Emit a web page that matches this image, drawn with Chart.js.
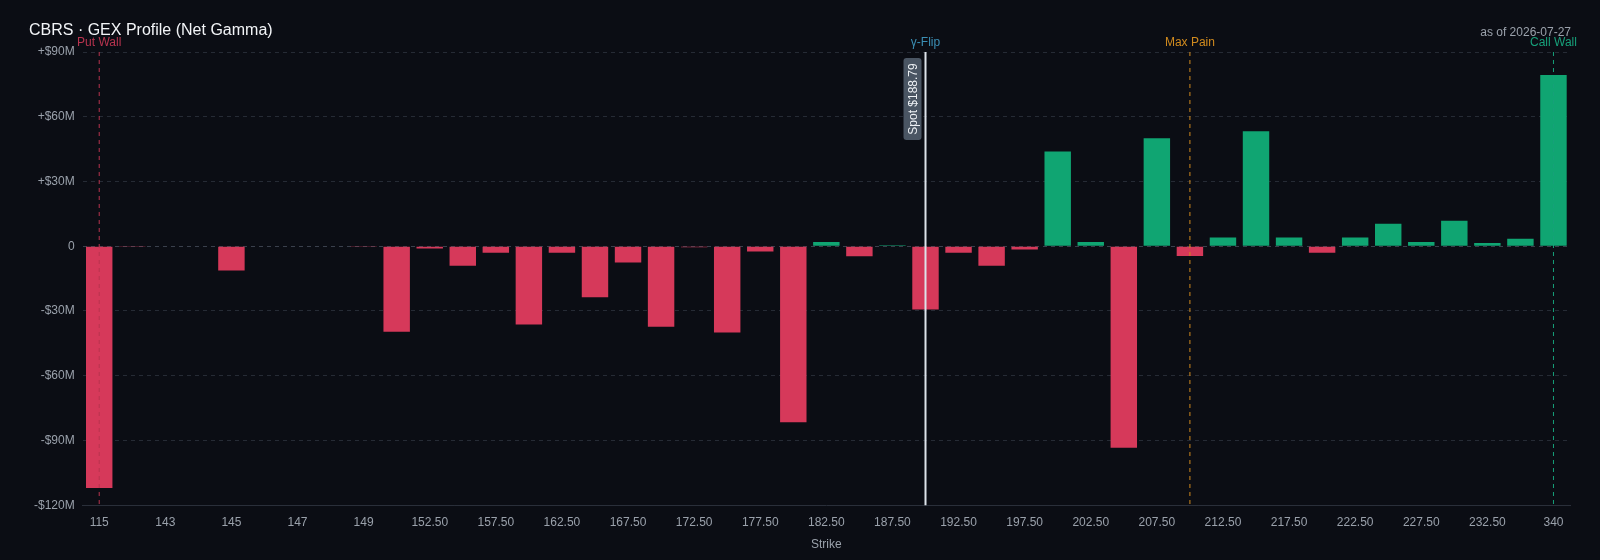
<!DOCTYPE html>
<html>
<head>
<meta charset="utf-8">
<script src="https://cdn.jsdelivr.net/npm/chart.js@4.4.1/dist/chart.umd.min.js"></script>
<style>
  html, body { margin:0; padding:0; background:#0b0d14; }
  #wrap { width:1600px; height:560px; position:relative; }
</style>
</head>
<body>
<div id="wrap"><canvas id="c" width="1600" height="560"></canvas></div>
<script>
// strikes and net gamma ($M)
var strikes = ['115','140','143','144','145','146','147','148','149','150','152.50','155','157.50','160','162.50','165','167.50','170','172.50','175','177.50','180','182.50','185','187.50','190','192.50','195','197.50','200','202.50','205','207.50','210','212.50','215','217.50','220','222.50','225','227.50','230','232.50','235','340']
var netGamma = [-112, -0.3, -0.2, -0.2, -11.3, -0.2, -0.2, -0.2, -0.3, -39.6, -1, -9, -3, -36.3, -3, -23.6, -7.5, -37.3, -0.5, -40, -2.5, -81.6, 2, -4.7, 0.5, -29.3, -3, -9, -1.5, 43.9, 2, -93.4, 50, -4.5, 4, 53.3, 4, -3, 4, 10.4, 2, 11.8, 1.5, 3.5, 79.3]
var yTicks = [-120, -90, -60, -30, 0, 30, 60, 90]

var levels = [
  { idx: 0, text: 'Put Wall', color: '#b8344f', dash: [4,4] },
  { idx: 25, text: '\u03b3-Flip', color: '#3b8fb5', dash: [] , spot: true },
  { idx: 33, text: 'Max Pain', color: '#d08a1e', dash: [4,4] },
  { idx: 44, text: 'Call Wall', color: '#17a07a', dash: [4,4] }
]

var linesPlugin = {
  id: 'levels',
  afterDatasetsDraw: function(chart) {
    var ctx = chart.ctx, x = chart.scales.x, a = chart.chartArea
    levels.forEach(function(l) {
      var px = x.getPixelForValue(l.idx)
      ctx.save()
      ctx.beginPath()
      ctx.setLineDash(l.dash)
      ctx.lineWidth = l.spot ? 2 : 1
      ctx.strokeStyle = l.spot ? '#dde3ea' : l.color
      ctx.moveTo(px, a.top); ctx.lineTo(px, a.bottom); ctx.stroke()
      ctx.setLineDash([])
      ctx.fillStyle = l.color
      ctx.font = '12px "Liberation Sans", Arial, sans-serif'
      ctx.textAlign = 'center'
      ctx.fillText(l.text, px, a.top - 6)
      if (l.spot) {
        ctx.translate(px - 13, 99)
        ctx.rotate(-Math.PI / 2)
        ctx.fillStyle = '#4a5563'
        ctx.beginPath()
        ctx.roundRect(-41, -9, 82, 18, 3)
        ctx.fill()
        ctx.fillStyle = '#eef1f5'
        ctx.textAlign = 'center'
        ctx.textBaseline = 'middle'
        ctx.fillText('Spot $188.79', 0, 1)
      }
      ctx.restore()
    })
    ctx.save()
    ctx.fillStyle = '#f2f4f7'
    ctx.font = '16px "Liberation Sans", Arial, sans-serif'
    ctx.fillText('CBRS \u00b7 GEX Profile (Net Gamma)', 29, 35)
    ctx.fillStyle = '#9aa1ab'
    ctx.font = '12px "Liberation Sans", Arial, sans-serif'
    ctx.textAlign = 'right'
    ctx.fillText('as of 2026-07-27', 1571, 36)
    ctx.restore()
  }
}

var chart = new Chart(document.getElementById('c'), {
  type: 'bar',
  data: {
    labels: strikes,
    datasets: [{
      data: netGamma,
      backgroundColor: netGamma.map(function(v){ return v >= 0 ? '#10a572' : '#d6395a' }),
      barPercentage: 0.8,
      categoryPercentage: 1
    }]
  },
  options: {
    responsive: false,
    animation: false,
    layout: { padding: { top: 52, right: 30, left: 26, bottom: 8 } },
    plugins: { legend: { display: false }, tooltip: { enabled: false } },
    scales: {
      x: {
        grid: { display: false },
        border: { color: '#2a2f3a' },
        ticks: { color: '#9aa1ab', padding: 2, font: { size: 12, family: '"Liberation Sans", Arial' }, maxRotation: 0, autoSkip: false,
          callback: function(v, i) { return i % 2 == 0 ? strikes[i] : '' } },
        title: { display: true, text: 'Strike', color: '#9aa1ab', font: { size: 12, family: '"Liberation Sans", Arial' }, padding: { top: 6, bottom: 0 } }
      },
      y: {
        min: -120, max: 90,
        afterBuildTicks: function(s) { s.ticks = yTicks.map(function(v){ return { value: v } }) },
        grid: { color: function(c){ return c.tick.value == 0 ? '#3a404c' : '#262b35' }, drawTicks: false },
        border: { display: false, dash: [4,4] },
        ticks: { color: '#9aa1ab', padding: 8, font: { size: 12, family: '"Liberation Sans", Arial' },
          callback: function(v) { return v == 0 ? '0' : (v > 0 ? '+$' + v + 'M' : '-$' + (-v) + 'M') } }
      }
    }
  },
  plugins: [linesPlugin]
})
</script>
</body>
</html>
